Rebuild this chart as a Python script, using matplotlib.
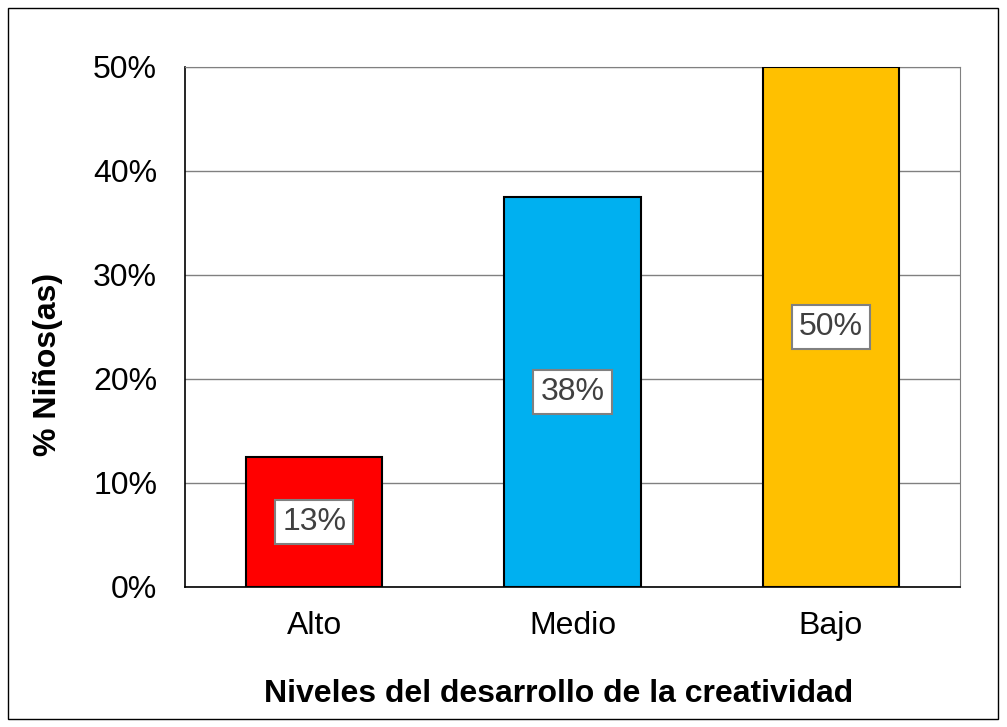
import matplotlib
matplotlib.use("Agg")
import matplotlib.pyplot as plt
from matplotlib.patches import Rectangle
from matplotlib.ticker import PercentFormatter

categories = ["Alto", "Medio", "Bajo"]
values = [12.5, 37.5, 50.0]
labels = ["13%", "38%", "50%"]
colors = ["#FF0000", "#00B0F0", "#FFC000"]
yticks = [0, 10, 20, 30, 40, 50]

plt.rcParams['font.family'] = ['Liberation Sans', 'DejaVu Sans']

fig = plt.figure(figsize=(10.07, 7.27), dpi=100)
ax = fig.add_axes([185/1007, 1-587/727, 775/1007, 520/727])

fig.patches.append(Rectangle((8/1007, 8/727), 990/1007, 711/727, transform=fig.transFigure,
                             fill=False, edgecolor="black", linewidth=1.0))

x = range(len(categories))
ax.bar(x, values, width=0.527, color=colors, edgecolor="black", linewidth=1.5, zorder=3)
for xi, v, lab in zip(x, values, labels):
    ax.text(xi, v/2, lab, ha="center", va="center", fontsize=23, color="#404040", zorder=4,
            bbox=dict(boxstyle="square,pad=0.22", facecolor="white", edgecolor="#808080", linewidth=1.5))

ax.set_xlim(-0.5, 2.5)
ax.set_ylim(0, 50)
ax.set_yticks(yticks)
ax.yaxis.set_major_formatter(PercentFormatter(decimals=0))
ax.set_xticks(list(x))
ax.set_xticklabels(categories)
ax.tick_params(axis="y", labelsize=23, length=0, pad=20)
ax.tick_params(axis="x", labelsize=23, length=0, pad=17)
ax.yaxis.grid(True, color="#808080", linewidth=1.0, zorder=0)
ax.set_axisbelow(True)
for s in ["top", "right"]:
    ax.spines[s].set_color("#808080")
for s in ["left", "bottom"]:
    ax.spines[s].set_color("black")
    ax.spines[s].set_linewidth(1.2)

ax.set_xlabel("Niveles del desarrollo de la creatividad", fontsize=23, fontweight="bold")
ax.set_ylabel("% Niños(as)", fontsize=23, fontweight="bold")
ax.xaxis.set_label_coords(0.482, -0.2058)
ax.xaxis.label.set_va("center")
ax.yaxis.set_label_coords(-0.1768, 0.428)
ax.yaxis.label.set_va("center")

fig.savefig("out.png", dpi=100)
